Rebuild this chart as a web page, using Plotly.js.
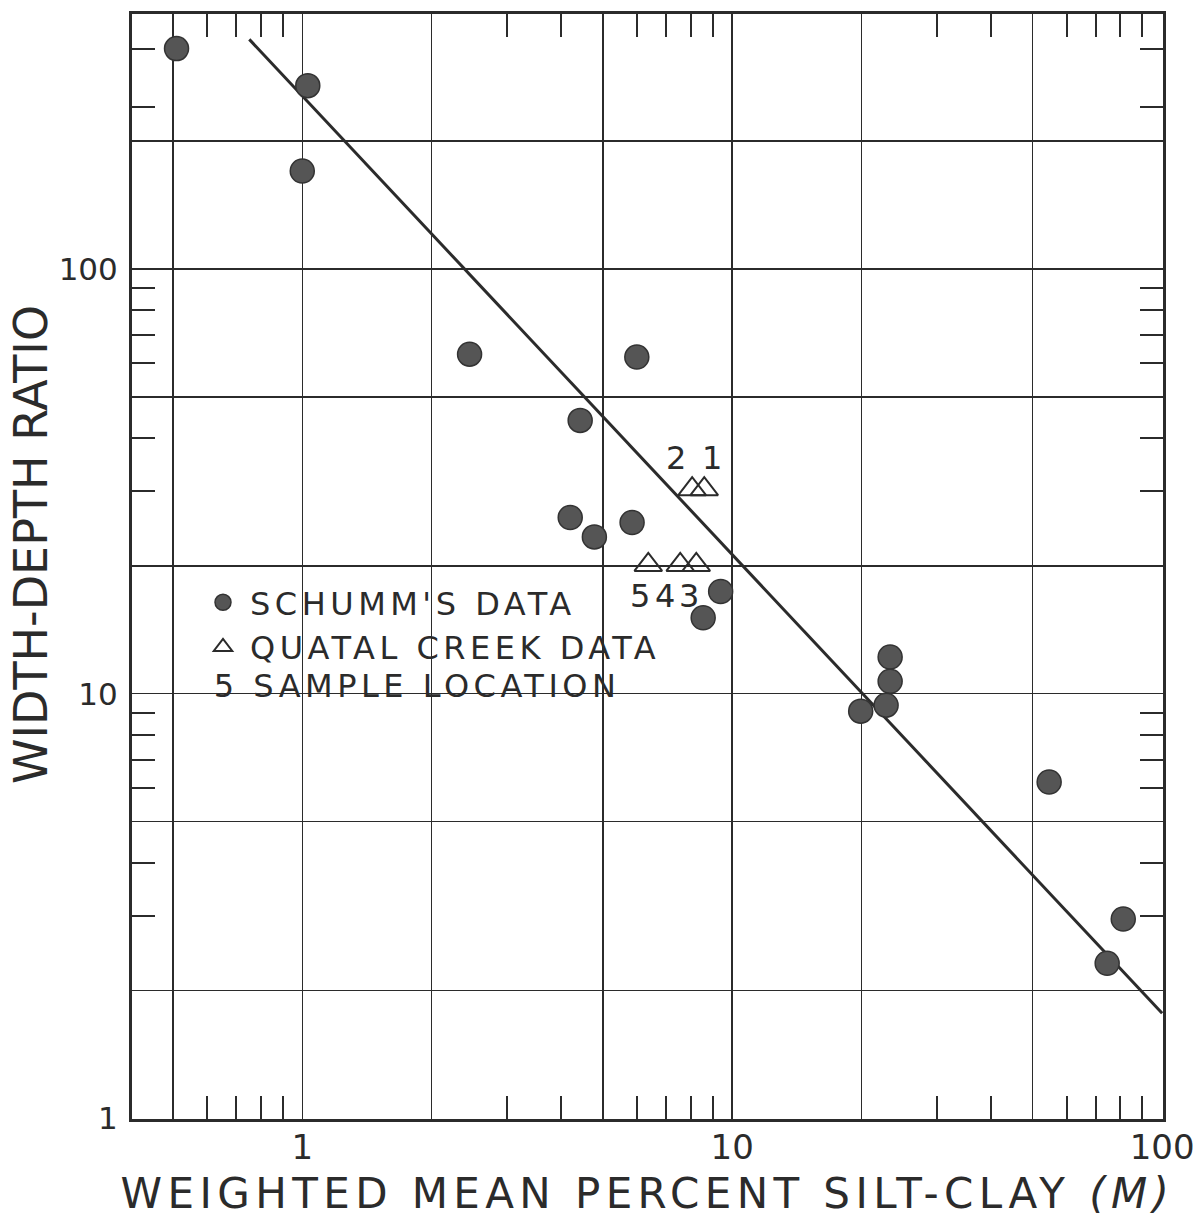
<!DOCTYPE html>
<html>
<head>
<meta charset="utf-8">
<script src="https://cdn.plot.ly/plotly-3.0.1.min.js"></script>
<style>
html,body{margin:0;padding:0;background:#fff;}
#chart{width:1203px;height:1218px;}
.xtitle{letter-spacing:5.4px;}
.legendtext{letter-spacing:4.5px;}
.annotation[data-index="0"] .annotation-text{letter-spacing:4.5px;}
</style>
</head>
<body>
<div id="chart"></div>
<script>
// ---- data ----
const schummM = [0.51, 1.03, 1.0, 2.45, 6.0, 4.43, 4.2, 4.78, 5.85, 9.4, 8.56, 23.3, 23.3, 22.8, 19.9, 54.6, 81.2, 74.5];
const schummF = [330, 270, 170, 63, 62, 44, 26, 23.4, 25.3, 17.4, 15.1, 12.2, 10.7, 9.4, 9.1, 6.2, 2.95, 2.32];
const quatalM = [8.61, 8.07, 8.25, 7.57, 6.38];
const quatalF = [30.3, 30.3, 20.1, 20.1, 20.1];
const quatalLabels = ['1', '2', '3', '4', '5'];
const fitM = [0.753, 100];
const fitF = [347, 1.77];

const xGridVals = [0.5, 1, 2, 5, 10, 20, 50, 100];
const xTickText = ['', '1', '', '', '10', '', '', '100'];
const xMinorVals = [0.6, 0.7, 0.8, 0.9, 3, 4, 6, 7, 8, 9, 30, 40, 60, 70, 80, 90];
const yGridVals = [1, 2, 5, 10, 20, 50, 100, 200];
const yTickText = ['1', '', '', '10', '', '', '100', ''];
const yMinorVals = [3, 4, 6, 7, 8, 9, 30, 40, 60, 70, 80, 90, 240, 330];

const seriesNames = ["SCHUMM'S DATA", 'QUATAL CREEK DATA'];
const sampleNote = '5 SAMPLE LOCATION';
const xTitle = 'WEIGHTED MEAN PERCENT SILT-CLAY <i>(M)</i>';
const yTitle = 'WIDTH-DEPTH RATIO';

// ---- styling ----
const INK = '#2b2b2b';
const FONT = 'DejaVu Sans, Liberation Sans, sans-serif';
const W = 1203, H = 1218;
const M = {l: 132, r: 40, t: 14, b: 99};
const PW = W - M.l - M.r, PH = H - M.t - M.b;
const px = x => (x - M.l) / PW;          // pixel -> paper (x)
const py = y => 1 - (y - M.t) / PH;      // pixel -> paper (y)
// label offsets (px) relative to each triangle, and vertical side
const labelDx = [8, -16, -7, -15, -8];
const labelSide = [1, 1, -1, -1, -1];

const traces = [
  {x: fitM, y: fitF, mode: 'lines', line: {color: INK, width: 3}, showlegend: false, hoverinfo: 'skip'},
  {x: schummM, y: schummF, mode: 'markers', name: seriesNames[0],
   marker: {symbol: 'circle', size: 24, color: '#555555', line: {color: '#333333', width: 1.5}}},
  {x: quatalM, y: quatalF, mode: 'markers', name: seriesNames[1],
   marker: {symbol: 'triangle-up-open', size: 24, color: INK, line: {color: INK, width: 2}}}
];

const axisCommon = {
  type: 'log', tickmode: 'array', ticks: '', showgrid: true, gridcolor: INK, gridwidth: 1.5,
  showline: true, linecolor: INK, linewidth: 3, mirror: 'allticks', zeroline: false, automargin: false
};

const annotations = [
  {text: sampleNote, xref: 'paper', yref: 'paper', x: px(417), y: py(686), xanchor: 'center', yanchor: 'middle',
   showarrow: false, font: {size: 32, color: INK, family: FONT}}
];
quatalLabels.forEach((t, i) => {
  annotations.push({
    text: t, xref: 'x', yref: 'y', x: Math.log10(quatalM[i]), y: Math.log10(quatalF[i]),
    xanchor: 'center', yanchor: 'middle', showarrow: false,
    xshift: labelDx[i], yshift: labelSide[i] * 31,
    font: {size: 32, color: INK, family: FONT}
  });
});

const layout = {
  width: W, height: H,
  margin: {l: M.l, r: M.r, t: M.t, b: M.b, autoexpand: false},
  paper_bgcolor: '#ffffff', plot_bgcolor: '#ffffff',
  font: {family: FONT, color: INK},
  showlegend: true,
  legend: {x: px(196), y: py(575), xanchor: 'left', yanchor: 'top', bgcolor: 'rgba(0,0,0,0)',
           font: {size: 32, color: INK, family: FONT}, itemsizing: 'trace', itemwidth: 44, tracegroupgap: 0},
  xaxis: Object.assign({}, axisCommon, {
    range: [-0.396, 2.002], tickvals: xGridVals, ticktext: xTickText,
    tickfont: {size: 34, family: FONT, color: INK}, ticklabelstandoff: -4,
    minor: {tickmode: 'array', tickvals: xMinorVals, ticks: 'inside', ticklen: 23, tickwidth: 2, tickcolor: INK, showgrid: false},
    title: {text: xTitle, font: {size: 42, family: FONT, color: INK}, standoff: 22}
  }),
  yaxis: Object.assign({}, axisCommon, {
    range: [-0.001, 2.6], tickvals: yGridVals, ticktext: yTickText,
    tickfont: {size: 31, family: FONT, color: INK}, ticklabelstandoff: 5,
    minor: {tickmode: 'array', tickvals: yMinorVals, ticks: 'inside', ticklen: 23, tickwidth: 2, tickcolor: INK, showgrid: false},
    title: {text: yTitle, font: {size: 46, family: FONT, color: INK}, standoff: 9}
  }),
  shapes: [
    {type: 'rect', xref: 'paper', yref: 'paper', x0: px(205), x1: px(588), y0: py(580), y1: py(627), fillcolor: '#ffffff', line: {width: 0}, layer: 'between'},
    {type: 'rect', xref: 'paper', yref: 'paper', x0: px(205), x1: px(672), y0: py(627), y1: py(667), fillcolor: '#ffffff', line: {width: 0}, layer: 'between'},
    {type: 'rect', xref: 'paper', yref: 'paper', x0: px(205), x1: px(625), y0: py(667), y1: py(706), fillcolor: '#ffffff', line: {width: 0}, layer: 'between'}
  ],
  annotations: annotations
};

Plotly.newPlot('chart', traces, layout, {displayModeBar: false, staticPlot: true}).then(gd => {
  // nudge the y-axis title to sit where the reference places it (slightly above centre)
  const g = gd.querySelector('.g-ytitle');
  if (g) {
    const t = g.getAttribute('transform') || '';
    g.setAttribute('transform', (t + ' translate(4,-22)').trim());
  }
});
</script>
</body>
</html>
